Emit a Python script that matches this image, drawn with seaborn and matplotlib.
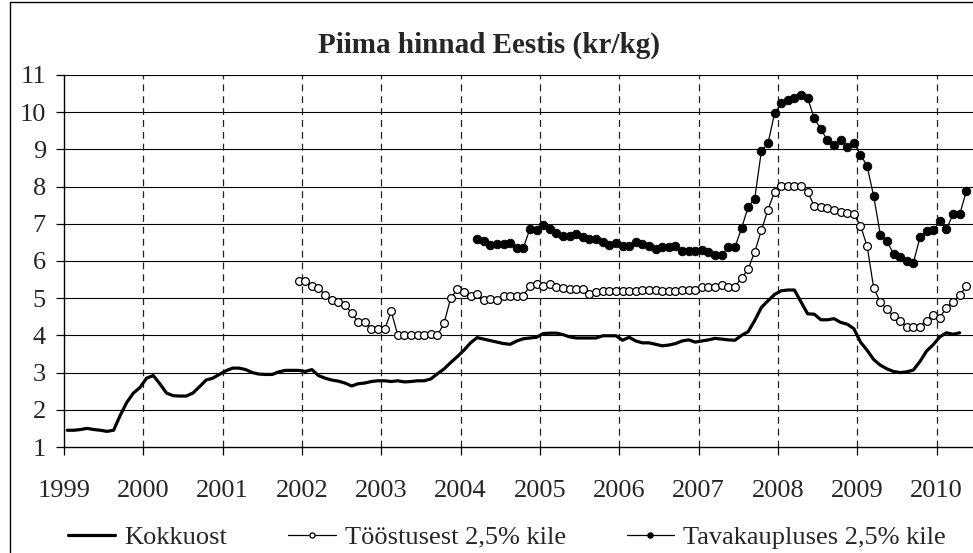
import numpy as np
import pandas as pd
import matplotlib
matplotlib.use("Agg")
import matplotlib.pyplot as plt
from matplotlib.lines import Line2D
import seaborn as sns

# ---------------- data (monthly, kr/kg) ----------------
title = "Piima hinnad Eestis (kr/kg)"
series_names = ["Kokkuost", "Tööstusest 2,5% kile", "Tavakaupluses 2,5% kile"]
year_ticks = list(range(1999, 2011))
y_ticks = list(range(1, 12))

# Kokkuost: Jan 1999 .. Apr 2010
kokkuost_start = (1999, 1)
kokkuost = [
    1.45, 1.45, 1.47, 1.50, 1.47, 1.45, 1.42, 1.45, 1.85, 2.20, 2.45, 2.60,
    2.85, 2.92, 2.70, 2.45, 2.38, 2.37, 2.37, 2.45, 2.62, 2.80, 2.85, 2.95,
    3.05, 3.12, 3.12, 3.08, 3.00, 2.96, 2.95, 2.95, 3.02, 3.06, 3.06, 3.06,
    3.03, 3.08, 2.92, 2.85, 2.80, 2.77, 2.72, 2.64, 2.70, 2.72, 2.76, 2.78,
    2.78, 2.76, 2.78, 2.75, 2.76, 2.78, 2.78, 2.83, 2.97, 3.10, 3.27, 3.43,
    3.60, 3.80, 3.94, 3.90, 3.86, 3.82, 3.78, 3.76, 3.85, 3.91, 3.93, 3.95,
    4.05, 4.06, 4.06, 4.02, 3.96, 3.93, 3.93, 3.93, 3.93, 3.99, 3.99, 3.99,
    3.87, 3.95, 3.85, 3.80, 3.80, 3.76, 3.72, 3.74, 3.78, 3.85, 3.88, 3.82,
    3.85, 3.88, 3.92, 3.90, 3.88, 3.87, 4.00, 4.10, 4.40, 4.75, 4.93, 5.10,
    5.20, 5.22, 5.22, 4.90, 4.58, 4.57, 4.42, 4.42, 4.45, 4.35, 4.30, 4.18,
    3.82, 3.60, 3.35, 3.20, 3.10, 3.03, 3.00, 3.02, 3.07, 3.30, 3.58, 3.75,
    3.96, 4.07, 4.03, 4.07,
]

# Tööstusest 2,5% kile: Dec 2001 .. May 2010
toostusest_start = (2001, 12)
toostusest = [
    5.45,
    5.45, 5.32, 5.27, 5.09, 4.96, 4.90, 4.83, 4.60, 4.36, 4.36, 4.16, 4.16,
    4.16, 4.65, 4.00, 4.00, 4.00, 4.00, 4.00, 4.05, 4.00, 4.33, 5.00, 5.24,
    5.18, 5.07, 5.10, 4.96, 4.98, 4.94, 5.06, 5.07, 5.07, 5.07, 5.33, 5.37,
    5.32, 5.37, 5.30, 5.28, 5.24, 5.24, 5.24, 5.12, 5.18, 5.20, 5.20, 5.20,
    5.20, 5.20, 5.20, 5.23, 5.23, 5.23, 5.20, 5.20, 5.20, 5.23, 5.23, 5.23,
    5.31, 5.31, 5.31, 5.35, 5.31, 5.31, 5.54, 5.78, 6.25, 6.82, 7.38, 7.86,
    8.01, 8.01, 8.01, 8.01, 7.86, 7.48, 7.45, 7.42, 7.36, 7.33, 7.30, 7.25,
    6.95, 6.40, 5.27, 4.90, 4.70, 4.52, 4.40, 4.23, 4.23, 4.23, 4.40, 4.55,
    4.48, 4.75, 4.90, 5.08, 5.32,
]

# Tavakaupluses 2,5% kile: Mar 2004 .. May 2010
tavakaupluses_start = (2004, 3)
tavakaupluses = [
    6.58, 6.53, 6.44, 6.46, 6.47, 6.48, 6.36, 6.36, 6.87, 6.84,
    6.98, 6.85, 6.75, 6.66, 6.68, 6.72, 6.65, 6.58, 6.60, 6.52, 6.43, 6.49,
    6.40, 6.40, 6.51, 6.45, 6.41, 6.31, 6.37, 6.37, 6.39, 6.28, 6.28, 6.28,
    6.30, 6.25, 6.16, 6.16, 6.37, 6.37, 6.88, 7.45, 7.68, 8.95, 9.16, 9.97,
    10.24, 10.32, 10.38, 10.47, 10.38, 9.84, 9.54, 9.25, 9.12, 9.25, 9.07, 9.18,
    8.86, 8.55, 7.74, 6.71, 6.53, 6.19, 6.10, 6.01, 5.95, 6.64, 6.80, 6.82,
    7.07, 6.86, 7.25, 7.25, 7.87,
]


def to_frame(values, start):
    y0, m0 = start
    idx = np.arange(len(values)) + (m0 - 1)
    # month centred inside its year slot (date axis, between tick marks)
    x = y0 + (idx + 0.5) / 12.0
    return pd.DataFrame({"t": x, "v": values})


df_k = to_frame(kokkuost, kokkuost_start)
df_t = to_frame(toostusest, toostusest_start)
df_p = to_frame(tavakaupluses, tavakaupluses_start)

# ---------------- style ----------------
sns.set_theme(style="white")
plt.rcParams["font.family"] = ["Liberation Serif", "DejaVu Serif"]
plt.rcParams["axes.linewidth"] = 1.0

W, H = 973, 553
fig = plt.figure(figsize=(W / 100, H / 100), dpi=100)
ax = fig.add_axes([64 / W, 1 - 447 / H, 1 - 64 / W, (447 - 75) / H])

sns.lineplot(data=df_k, x="t", y="v", ax=ax, color="black", lw=2.3,
             label=series_names[0], solid_joinstyle="round")
sns.lineplot(data=df_t, x="t", y="v", ax=ax, color="black", lw=0.9,
             marker="o", markersize=5.6, markerfacecolor="white",
             markeredgecolor="black", markeredgewidth=0.9,
             label=series_names[1])
sns.lineplot(data=df_p, x="t", y="v", ax=ax, color="black", lw=0.9,
             marker="o", markersize=6.2, markerfacecolor="black",
             markeredgecolor="black", markeredgewidth=0.6,
             label=series_names[2])

ax.set_xlim(1999, 2010.46)
ax.set_ylim(1, 11)
ax.set_xticks(year_ticks)
ax.set_xticklabels([str(y) for y in year_ticks])
ax.set_yticks(y_ticks)
ax.set_yticklabels([str(v) for v in y_ticks])
ax.set_xlabel("")
ax.set_ylabel("")

# grid: solid horizontal, dashed vertical
for v in y_ticks[1:]:
    ax.axhline(v, color="black", lw=0.8, zorder=0)
for y in year_ticks[1:]:
    ax.axvline(y, color="#222222", lw=0.9, ls=(0, (5.5, 4)), zorder=0)

for s in ["top", "right"]:
    ax.spines[s].set_visible(False)
ax.spines["left"].set_color("black")
ax.spines["bottom"].set_color("black")

ax.tick_params(axis="x", direction="out", length=5.5, width=0.9,
               color="black", pad=18, labelsize=19, bottom=True)
ax.tick_params(axis="y", direction="out", length=6, width=0.9,
               color="black", pad=7, labelsize=19, left=True)

fig.text(489 / W, 1 - 45 / H, title, ha="center", va="center",
         fontsize=21, fontweight="bold")

leg = ax.legend(loc="center", bbox_to_anchor=(507 / W, 1 - 537 / H),
                bbox_transform=fig.transFigure, ncol=3, frameon=False,
                fontsize=19, handlelength=1.8, handletextpad=0.35,
                columnspacing=2.3, markerscale=0.65, borderpad=0)

# chart border
fig.add_artist(Line2D([10 / W, 10 / W], [0, 1 - 2 / H], transform=fig.transFigure,
                      color="black", lw=1.0))
fig.add_artist(Line2D([10 / W, 1], [1 - 2 / H, 1 - 2 / H], transform=fig.transFigure,
                      color="black", lw=1.0))

fig.savefig("out.png", dpi=100)
